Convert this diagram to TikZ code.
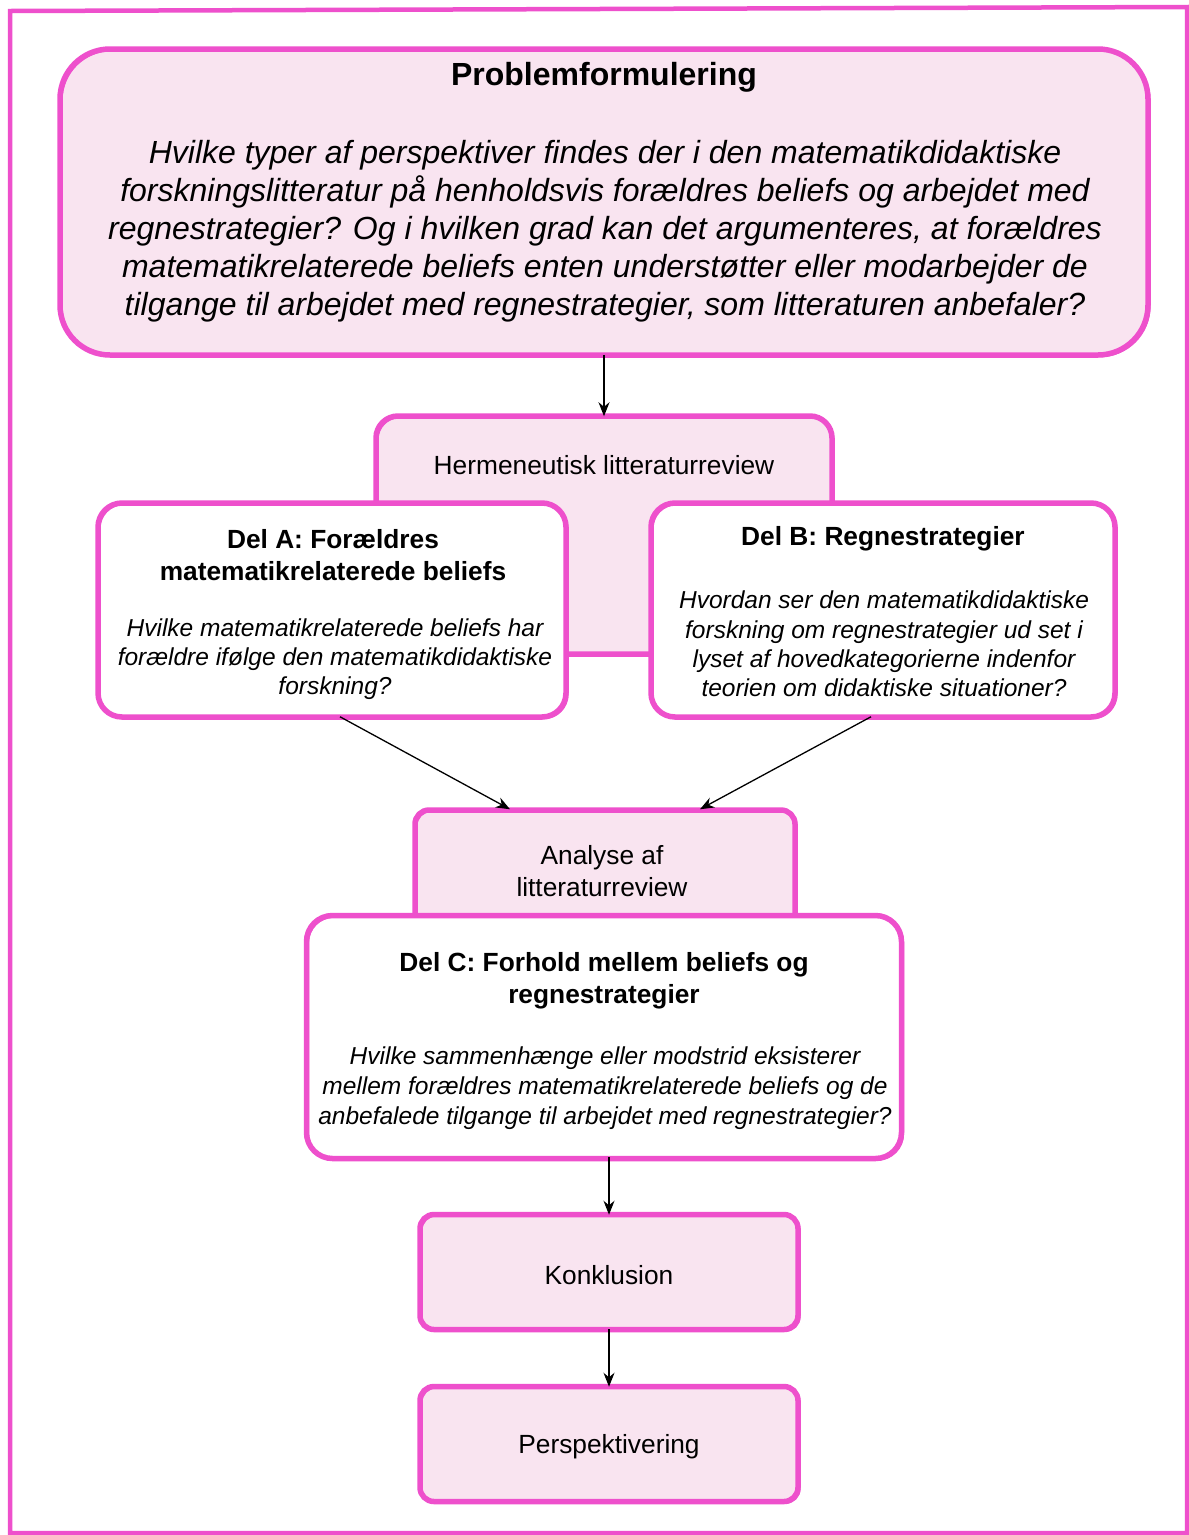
\documentclass[tikz,border=0pt]{standalone}
\usepackage{fontspec}
\setmainfont{Liberation Sans}
\usetikzlibrary{arrows.meta}
\definecolor{edge}{RGB}{238,80,204}
\definecolor{blush}{RGB}{249,228,240}

\begin{document}
\begin{tikzpicture}[x=1pt,y=-1pt,
  box/.style={draw=edge, line width=5.5pt, fill=blush, rounded corners=16pt, inner sep=0pt,
    postaction={draw=edge, line width=1.6pt, transform canvas={shift={(1.8pt,-1.4pt)}}}},
  whitebox/.style={box, fill=white},
  lbl/.style={align=center, inner sep=0pt, text=black},
  arr/.style={-{Stealth[length=14pt,width=11pt]}, line width=1.3pt, black}]
\useasboundingbox (0,0) rectangle (1189,1535);
\fill[white] (0,0) rectangle (1189,1535);

% outer frame
\draw[edge, line width=4.5pt] (10,11) -- (1187,7) -- (1187,1533) -- (10,1533) -- cycle;

% problem statement
\node[box, rounded corners=50pt, minimum width=1088pt, minimum height=306pt] (prob) at (604,202) {};
\node[lbl, font=\fontsize{32}{38}\selectfont\bfseries] (probtitle) at (604,77) {Problemformulering};
\node[lbl, font=\fontsize{32}{38}\selectfont\itshape] (probtext) at (605,231)
  {Hvilke typer af perspektiver findes der i den matematikdidaktiske\\
   forskningslitteratur på henholdsvis forældres beliefs og arbejdet med\\
   regnestrategier? Og i hvilken grad kan det argumenteres, at forældres\\
   matematikrelaterede beliefs enten understøtter eller modarbejder de\\
   tilgange til arbejdet med regnestrategier, som litteraturen anbefaler?};

% hermeneutic review, partly covered by parts A and B
\node[box, rounded corners=22pt, minimum width=456pt, minimum height=238pt] (herm) at (604,535) {};
\node[lbl, font=\fontsize{26.3}{31}\selectfont] (hermtext) at (604,465) {Hermeneutisk litteraturreview};

% part A
\node[whitebox, rounded corners=24pt, minimum width=468pt, minimum height=214pt] (dela) at (332,610) {};
\node[lbl, font=\fontsize{26.3}{32}\selectfont\bfseries] (delatitle) at (333,555)
  {Del A: Forældres\\matematikrelaterede beliefs};
\node[lbl, font=\fontsize{24.5}{29}\selectfont\itshape] (delatext) at (335,659)
  {Hvilke matematikrelaterede beliefs har\\
   forældre ifølge den matematikdidaktiske\\
   forskning?};

% part B
\node[whitebox, rounded corners=24pt, minimum width=464pt, minimum height=214pt] (delb) at (883,610) {};
\node[lbl, font=\fontsize{26.3}{32}\selectfont\bfseries] (delbtitle) at (883,539)
  {Del B: Regnestrategier};
\node[lbl, font=\fontsize{24.5}{29.3}\selectfont\itshape] (delbtext) at (884,644)
  {Hvordan ser den matematikdidaktiske\\
   forskning om regnestrategier ud set i\\
   lyset af hovedkategorierne indenfor\\
   teorien om didaktiske situationer?};

% analysis, partly covered by part C
\node[box, rounded corners=14pt, minimum width=380pt, minimum height=140pt] (anal) at (605,880) {};
\node[lbl, font=\fontsize{26.3}{32}\selectfont] (analtext) at (602,871)
  {Analyse af\\litteraturreview};

% part C
\node[whitebox, rounded corners=26pt, minimum width=595pt, minimum height=243pt] (delc) at (604,1037) {};
\node[lbl, font=\fontsize{26.3}{32}\selectfont\bfseries] (delctitle) at (604,981)
  {Del C: Forhold mellem beliefs og\\regnestrategier};
\node[lbl, font=\fontsize{24.5}{30}\selectfont\itshape] (delctext) at (605,1088)
  {Hvilke sammenhænge eller modstrid eksisterer\\
   mellem forældres matematikrelaterede beliefs og de\\
   anbefalede tilgange til arbejdet med regnestrategier?};

% conclusion and outlook
\node[box, rounded corners=14pt, minimum width=378pt, minimum height=115pt] (konk) at (609,1272) {};
\node[lbl, font=\fontsize{26.3}{31}\selectfont] (konktext) at (609,1275) {Konklusion};
\node[box, rounded corners=14pt, minimum width=378pt, minimum height=115pt] (persp) at (609,1444) {};
\node[lbl, font=\fontsize{26.3}{31}\selectfont] (persptext) at (609,1447) {Perspektivering};

% connectors
\draw[arr] ([yshift=3pt]prob.south) -- ([yshift=-3pt]herm.north);
\draw[arr] ([xshift=8pt,yshift=3pt]dela.south) -- ([xshift=-95pt,yshift=-2pt]anal.north);
\draw[arr] ([xshift=-12pt,yshift=3pt]delb.south) -- ([xshift=95pt,yshift=-2pt]anal.north);
\draw[arr] ([yshift=4pt]konk.north |- delc.south) -- ([yshift=-3pt]konk.north);
\draw[arr] ([yshift=3pt]konk.south) -- ([yshift=-3pt]persp.north);
\end{tikzpicture}
\end{document}
